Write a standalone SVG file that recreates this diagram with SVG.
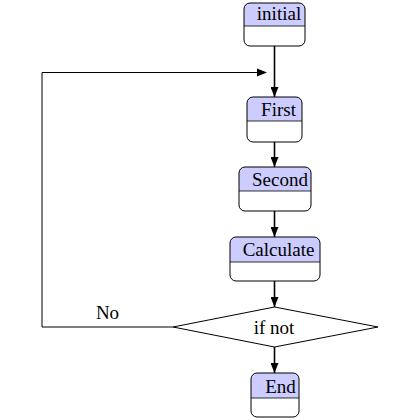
<svg xmlns="http://www.w3.org/2000/svg" width="420" height="420" viewBox="0 0 420 420">
<defs>
<marker id="ah" viewBox="0 0 10 8" refX="10" refY="4" markerWidth="10" markerHeight="8" markerUnits="userSpaceOnUse" orient="auto">
<path d="M0,0 L10,4 L0,8 Z" fill="#000"/>
</marker>
<clipPath id="c-initial"><rect x="244" y="3" width="61" height="43" rx="6"/></clipPath>
<clipPath id="c-first"><rect x="247" y="97" width="55" height="45" rx="6"/></clipPath>
<clipPath id="c-second"><rect x="239" y="167" width="72" height="44" rx="6"/></clipPath>
<clipPath id="c-calc"><rect x="230" y="237" width="90" height="44" rx="6"/></clipPath>
<clipPath id="c-end"><rect x="251" y="373" width="48" height="44" rx="6"/></clipPath>
</defs>
<style>
.hd{fill:#ccccff}
.bd{fill:none;stroke:#000;stroke-width:1}
.sep{stroke:#000;stroke-width:0.8}
.t{font-family:"Liberation Serif","Times New Roman",serif;font-size:19px;fill:#000;text-anchor:middle}
.a{fill:none;stroke:#000;stroke-width:1.6;marker-end:url(#ah)}
.l{fill:none;stroke:#000;stroke-width:1}
</style>
<g id="connectors">
<line class="a" x1="274.5" y1="46" x2="274.5" y2="97"/>
<line class="a" x1="274.5" y1="142" x2="274.5" y2="167"/>
<line class="a" x1="274.5" y1="211" x2="274.5" y2="237"/>
<line class="a" x1="274.5" y1="281" x2="274.5" y2="307"/>
<line class="a" x1="274.5" y1="347" x2="274.5" y2="373"/>
<polyline class="l" points="173,327 42,327 42,72.5 257,72.5"/>
<path d="M257,68.5 L267,72.5 L257,76.5 Z" fill="#000"/>
<text class="t" x="107.5" y="319">No</text>
</g>
<g id="initial">
<rect class="hd" x="244" y="3" width="61" height="23" clip-path="url(#c-initial)"/>
<line class="sep" x1="244" y1="26" x2="305" y2="26"/>
<rect class="bd" x="244" y="3" width="61" height="43" rx="6"/>
<text class="t" x="279" y="19.5">initial</text>
</g>
<g id="first">
<rect class="hd" x="247" y="97" width="55" height="24" clip-path="url(#c-first)"/>
<line class="sep" x1="247" y1="121" x2="302" y2="121"/>
<rect class="bd" x="247" y="97" width="55" height="45" rx="6"/>
<text class="t" x="278.5" y="116">First</text>
</g>
<g id="second">
<rect class="hd" x="239" y="167" width="72" height="24" clip-path="url(#c-second)"/>
<line class="sep" x1="239" y1="191" x2="311" y2="191"/>
<rect class="bd" x="239" y="167" width="72" height="44" rx="6"/>
<text class="t" x="280" y="185.5">Second</text>
</g>
<g id="calculate">
<rect class="hd" x="230" y="237" width="90" height="25" clip-path="url(#c-calc)"/>
<line class="sep" x1="230" y1="262" x2="320" y2="262"/>
<rect class="bd" x="230" y="237" width="90" height="44" rx="6"/>
<text class="t" x="278.5" y="256">Calculate</text>
</g>
<g id="ifnot">
<polygon class="bd" points="274.5,307 378,327 274.5,347 173,327"/>
<text class="t" x="274" y="334">if not</text>
</g>
<g id="end">
<rect class="hd" x="251" y="373" width="48" height="25" clip-path="url(#c-end)"/>
<line class="sep" x1="251" y1="398" x2="299" y2="398"/>
<rect class="bd" x="251" y="373" width="48" height="44" rx="6"/>
<text class="t" x="280.5" y="392.5">End</text>
</g>
</svg>
